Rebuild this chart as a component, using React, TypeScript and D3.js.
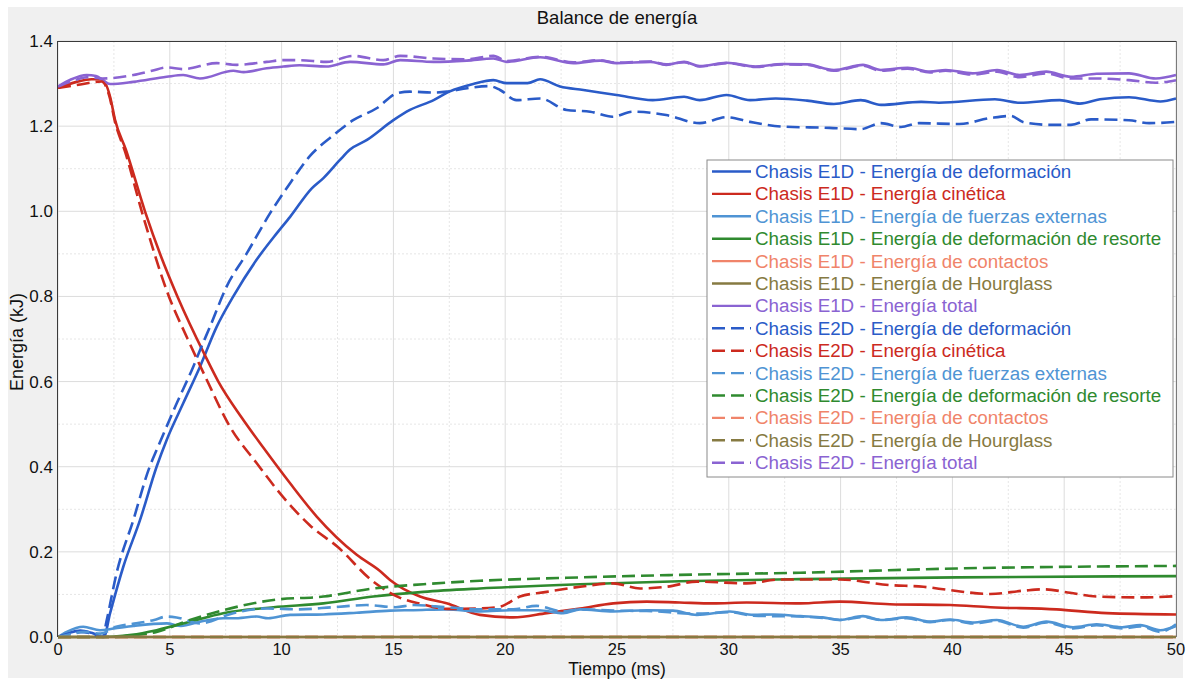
import React from "react";
import * as d3 from "d3";

type Pt = [number, number];

const xTicks = [0, 5, 10, 15, 20, 25, 30, 35, 40, 45, 50];
const yTicks = [0, 0.2, 0.4, 0.6, 0.8, 1.0, 1.2, 1.4];

const e1dDef: Pt[] = [[0,0],[0.5,0.01],[1,0.015],[1.5,0.01],[2.05,0],[2.33,0.056],[2.92,0.165],[3.67,0.275],[4.41,0.4],[4.86,0.463],[5.6,0.549],[6.35,0.635],[7.1,0.729],[7.84,0.8],[8.88,0.886],[9.78,0.948],[10.38,0.987],[11.35,1.054],[11.87,1.078],[12.6,1.12],[13.06,1.145],[13.8,1.167],[15,1.214],[15.74,1.238],[16.8,1.261],[17.5,1.281],[18.57,1.299],[19.47,1.308],[20.07,1.301],[21,1.301],[21.56,1.31],[22.45,1.293],[23.5,1.285],[24.98,1.273],[26.6,1.261],[28,1.269],[28.7,1.261],[29.9,1.273],[30.95,1.261],[32.1,1.265],[33.5,1.26],[34.7,1.252],[35.9,1.261],[36.8,1.25],[38.6,1.257],[39.4,1.255],[41.9,1.263],[43,1.255],[44.8,1.261],[45.7,1.253],[46.6,1.263],[47.9,1.268],[49.3,1.258],[50,1.265]];
const e1dKin: Pt[] = [[0,1.29],[0.83,1.304],[1.5,1.31],[1.95,1.31],[2.33,1.269],[2.55,1.215],[3.04,1.144],[3.89,1.0],[4.6,0.895],[5.34,0.8],[6.57,0.662],[7.17,0.6],[8.22,0.515],[9.18,0.445],[10.38,0.361],[11.57,0.283],[13.36,0.193],[14.4,0.155],[14.85,0.134],[16.19,0.095],[17.38,0.079],[18.87,0.052],[20.36,0.046],[21.86,0.056],[23.35,0.067],[24.83,0.079],[26.33,0.083],[27.8,0.081],[29.3,0.079],[30.8,0.081],[33.2,0.079],[34.97,0.083],[37.2,0.077],[39.9,0.075],[41.7,0.07],[44.66,0.065],[46.9,0.056],[50,0.053]];
const e1dExt: Pt[] = [[0,0],[0.39,0.012],[1.13,0.024],[1.88,0.016],[2.5,0.02],[3.37,0.026],[4.86,0.032],[5.5,0.026],[6.35,0.036],[7.39,0.044],[7.84,0.044],[8.89,0.048],[9.4,0.044],[10.38,0.052],[11.87,0.053],[13.36,0.057],[14.85,0.062],[15.9,0.063],[17.38,0.065],[18.87,0.06],[20.36,0.063],[21.5,0.063],[22.6,0.056],[23.35,0.065],[24.83,0.06],[26.33,0.063],[27.5,0.062],[28.57,0.052],[30.05,0.06],[31.1,0.052],[32,0.053],[33.2,0.049],[34.2,0.046],[34.97,0.04],[36,0.049],[36.8,0.04],[37.96,0.046],[39,0.036],[39.9,0.041],[40.9,0.034],[41.98,0.04],[43.17,0.024],[44.2,0.036],[45.4,0.023],[46.45,0.03],[47.6,0.023],[48.4,0.028],[49.3,0.016],[50,0.026]];
const e1dSpring: Pt[] = [[0,0],[2,0],[2.5,0.001],[3.3,0.005],[4.41,0.016],[5.9,0.036],[7.39,0.056],[9.63,0.07],[11.87,0.079],[14.1,0.095],[16.34,0.106],[18.87,0.114],[23.35,0.124],[27.8,0.131],[33.2,0.136],[40.2,0.14],[50,0.143]];
const e1dContact: Pt[] = [[0,0],[10,0],[20,0],[30,0],[40,0],[50,0]];
const e1dHourglass: Pt[] = [[0,0],[10,0],[20,0],[30,0],[40,0],[50,0]];
const e1dTotal: Pt[] = [[0,1.293],[0.6,1.31],[1.28,1.32],[1.7,1.318],[2.0,1.308],[2.33,1.299],[3.37,1.304],[4.86,1.316],[5.6,1.32],[6.35,1.312],[7.84,1.33],[8.3,1.327],[9.33,1.336],[10.08,1.34],[10.8,1.343],[12.0,1.34],[13.06,1.351],[14.55,1.345],[15.3,1.355],[16.8,1.351],[18.28,1.354],[19.47,1.359],[20.07,1.351],[21.56,1.362],[23.05,1.348],[24.24,1.354],[24.98,1.348],[26.5,1.351],[27.2,1.344],[28,1.351],[28.7,1.341],[29.9,1.349],[31.2,1.34],[32.4,1.346],[33.5,1.345],[34.7,1.332],[36,1.344],[36.8,1.332],[38,1.337],[39,1.328],[39.7,1.332],[40.9,1.324],[42,1.332],[43,1.32],[44.2,1.328],[45.3,1.316],[46.45,1.323],[47.9,1.324],[49.1,1.312],[50,1.32]];

const e2dDef: Pt[] = [[0,0],[0.5,0.008],[1,0.012],[1.5,0.008],[2.0,0],[2.18,0.04],[2.62,0.15],[3.37,0.275],[4.1,0.4],[4.41,0.439],[5.31,0.549],[6.05,0.635],[6.4,0.68],[6.8,0.729],[7.54,0.823],[8.44,0.901],[9.48,0.995],[10.38,1.066],[11.27,1.13],[12.3,1.178],[13.2,1.214],[14.25,1.242],[15.15,1.277],[15.74,1.281],[16.8,1.279],[17.4,1.281],[18.3,1.289],[19.3,1.294],[19.77,1.285],[20.5,1.261],[21.56,1.265],[22.75,1.238],[23.8,1.234],[24.8,1.222],[25.7,1.234],[27.2,1.226],[28.7,1.207],[29.9,1.221],[30.95,1.21],[32.4,1.199],[34.5,1.196],[35.9,1.193],[36.8,1.207],[37.7,1.198],[38.5,1.207],[40.3,1.205],[41.7,1.219],[42.6,1.224],[43.2,1.209],[44.4,1.203],[45.3,1.203],[46.2,1.216],[47.9,1.214],[48.8,1.207],[50,1.21]];
const e2dKin: Pt[] = [[0,1.29],[1,1.298],[1.95,1.305],[2.3,1.27],[2.55,1.21],[3.0,1.14],[3.8,0.99],[4.96,0.8],[5.8,0.7],[6.6,0.61],[7.69,0.494],[8.89,0.408],[10.08,0.328],[11.27,0.262],[12.5,0.212],[14.1,0.13],[15.3,0.092],[16.2,0.078],[17.38,0.066],[18.87,0.067],[19.76,0.071],[20.66,0.095],[21.86,0.106],[23.35,0.118],[24.83,0.126],[26.03,0.114],[27.22,0.118],[28.57,0.13],[30.8,0.126],[32.3,0.135],[34.97,0.135],[37.2,0.122],[38.7,0.118],[39.9,0.11],[41.7,0.101],[43.2,0.109],[44.07,0.112],[45.26,0.104],[46.45,0.095],[48.4,0.093],[50,0.096]];
const e2dExt: Pt[] = [[0,0],[0.5,0.006],[1.2,0.012],[1.9,0.008],[2.6,0.024],[3.5,0.032],[4.3,0.04],[4.86,0.048],[5.3,0.046],[6.35,0.032],[7.84,0.056],[9.33,0.067],[10.8,0.065],[12.3,0.07],[13.8,0.075],[15.1,0.07],[15.9,0.075],[17.38,0.07],[18.87,0.065],[20.36,0.065],[21.4,0.073],[22.6,0.06],[23.35,0.065],[24.83,0.062],[26.33,0.061],[28.57,0.055],[30.05,0.058],[31.1,0.05],[33.2,0.048],[34.2,0.045],[34.97,0.04],[36,0.047],[36.8,0.04],[37.96,0.044],[39,0.035],[39.9,0.04],[40.9,0.032],[41.98,0.038],[43.17,0.022],[44.2,0.034],[45.4,0.02],[46.45,0.028],[47.6,0.02],[48.4,0.025],[49.3,0.012],[50,0.03]];
const e2dSpring: Pt[] = [[0,0],[2.3,0],[3.2,0.003],[4.41,0.012],[5.9,0.04],[7.39,0.063],[9.63,0.087],[11.87,0.095],[14.1,0.114],[16.34,0.124],[18.87,0.132],[23.35,0.14],[27.8,0.146],[33.2,0.151],[40.2,0.161],[50,0.167]];
const e2dContact: Pt[] = [[0,0],[10,0],[20,0],[30,0],[40,0],[50,0]];
const e2dHourglass: Pt[] = [[0,0],[10,0],[20,0],[30,0],[40,0],[50,0]];
const e2dTotal: Pt[] = [[0,1.293],[0.6,1.305],[1.28,1.315],[2.0,1.312],[3.37,1.32],[4.2,1.33],[4.86,1.338],[5.6,1.334],[7.1,1.348],[8.0,1.344],[9.33,1.351],[10.08,1.355],[10.8,1.355],[12.0,1.351],[13.2,1.365],[14.55,1.355],[15.3,1.365],[16.8,1.359],[18.28,1.357],[19.47,1.365],[20.07,1.353],[21.56,1.363],[23.05,1.35],[24.24,1.355],[24.98,1.349],[26.5,1.352],[27.2,1.345],[28,1.35],[28.7,1.34],[29.9,1.348],[31.2,1.339],[32.4,1.345],[33.5,1.344],[34.7,1.33],[36,1.342],[36.8,1.33],[38,1.335],[39,1.326],[39.7,1.33],[40.9,1.321],[42,1.328],[43,1.315],[44.2,1.324],[45.3,1.312],[46.45,1.312],[47.9,1.308],[49.1,1.302],[50,1.308]];

const energyNames = [
  "Energía de deformación",
  "Energía cinética",
  "Energía de fuerzas externas",
  "Energía de deformación de resorte",
  "Energía de contactos",
  "Energía de Hourglass",
  "Energía total",
];
const energyColors = ["#2a5bc8", "#cc2a1e", "#4f94d4", "#2f8a2f", "#f0846a", "#867a42", "#8a63d2"];
const models = ["Chasis E1D", "Chasis E2D"];
const e1dSeries = [e1dDef, e1dKin, e1dExt, e1dSpring, e1dContact, e1dHourglass, e1dTotal];
const e2dSeries = [e2dDef, e2dKin, e2dExt, e2dSpring, e2dContact, e2dHourglass, e2dTotal];

const W = 1188;
const H = 679;
const M = { left: 58, right: 1176, top: 41, bottom: 637 };
const FONT = "'Liberation Sans', Arial, sans-serif";
const DASH = "13,6";

export default function App() {
  const x = d3.scaleLinear().domain([0, 50]).range([M.left, M.right]);
  const y = d3.scaleLinear().domain([0, 1.4]).range([M.bottom, M.top]);
  const line = d3
    .line<Pt>()
    .x((d) => x(d[0]))
    .y((d) => y(d[1]))
    .curve(d3.curveMonotoneX);

  const minorX = d3.range(2.5, 50, 5);
  const minorY = d3.range(0.1, 1.4, 0.2);

  const legendItems = models.flatMap((m, mi) =>
    energyNames.map((n, i) => ({ label: `${m} - ${n}`, color: energyColors[i], dashed: mi === 1 }))
  );
  const lgX = 707, lgY = 160, lgW = 466, lgH = 317, rowH = 22.4;

  return (
    <svg width={W} height={H} style={{ position: "absolute", left: 0, top: 0 }} fontFamily={FONT}>
      <rect x={0} y={0} width={W} height={H} fill="#ffffff" />
      <rect x={8} y={7} width={1175} height={671} fill="#f0f0f0" />
      <rect x={M.left} y={M.top} width={M.right - M.left} height={M.bottom - M.top} fill="#ffffff" />
      {minorX.map((v) => (
        <line key={"mx" + v} x1={x(v)} x2={x(v)} y1={M.top} y2={M.bottom} stroke="#e6e6e6" strokeDasharray="2,2" />
      ))}
      {minorY.map((v) => (
        <line key={"my" + v} x1={M.left} x2={M.right} y1={y(v)} y2={y(v)} stroke="#e6e6e6" strokeDasharray="2,2" />
      ))}
      {xTicks.map((v) => (
        <line key={"gx" + v} x1={x(v)} x2={x(v)} y1={M.top} y2={M.bottom} stroke="#dcdcdc" />
      ))}
      {yTicks.map((v) => (
        <line key={"gy" + v} x1={M.left} x2={M.right} y1={y(v)} y2={y(v)} stroke="#dcdcdc" />
      ))}
      <g fill="none" strokeWidth={2.6} strokeLinejoin="round">
        {e1dSeries.map((s, i) => (
          <path key={"a" + i} d={line(s) || ""} stroke={energyColors[i]} />
        ))}
        {e2dSeries.map((s, i) => (
          <path key={"b" + i} d={line(s) || ""} stroke={energyColors[i]} strokeDasharray={DASH} />
        ))}
      </g>
      <line x1={M.left} x2={M.right} y1={M.top + 0.5} y2={M.top + 0.5} stroke="#3a3a3a" />
      <line x1={M.left - 0.5} x2={M.left - 0.5} y1={M.top} y2={M.bottom} stroke="#3a3a3a" />
      <line x1={M.right + 0.5} x2={M.right + 0.5} y1={M.top} y2={M.bottom} stroke="#7a7a7a" />
      {xTicks.map((v) => (
        <text key={"tx" + v} x={x(v)} y={655} fontSize={16.5} textAnchor="middle" fill="#111">
          {v}
        </text>
      ))}
      {yTicks.map((v) => (
        <text key={"ty" + v} x={53} y={y(v) + 6} fontSize={17} textAnchor="end" fill="#111">
          {v.toFixed(1)}
        </text>
      ))}
      <text x={617} y={24} fontSize={18.5} textAnchor="middle" fill="#111">
        Balance de energía
      </text>
      <text x={617} y={675} fontSize={17.5} textAnchor="middle" fill="#111">
        Tiempo (ms)
      </text>
      <text transform={`translate(23, ${(M.top + M.bottom) / 2 + 3}) rotate(-90)`} fontSize={18} textAnchor="middle" fill="#111">
        Energía (kJ)
      </text>
      <rect x={lgX} y={lgY} width={lgW} height={lgH} fill="#ffffff" stroke="#8a8a8a" />
      {legendItems.map((it, i) => {
        const cy = lgY + 11.5 + i * rowH;
        return (
          <g key={"lg" + i}>
            <line x1={712} x2={751} y1={cy} y2={cy} stroke={it.color} strokeWidth={2.4} strokeDasharray={it.dashed ? "13,6" : undefined} />
            <text x={755} y={cy + 6.5} fontSize={18.8} fill={it.color}>
              {it.label}
            </text>
          </g>
        );
      })}
    </svg>
  );
}
